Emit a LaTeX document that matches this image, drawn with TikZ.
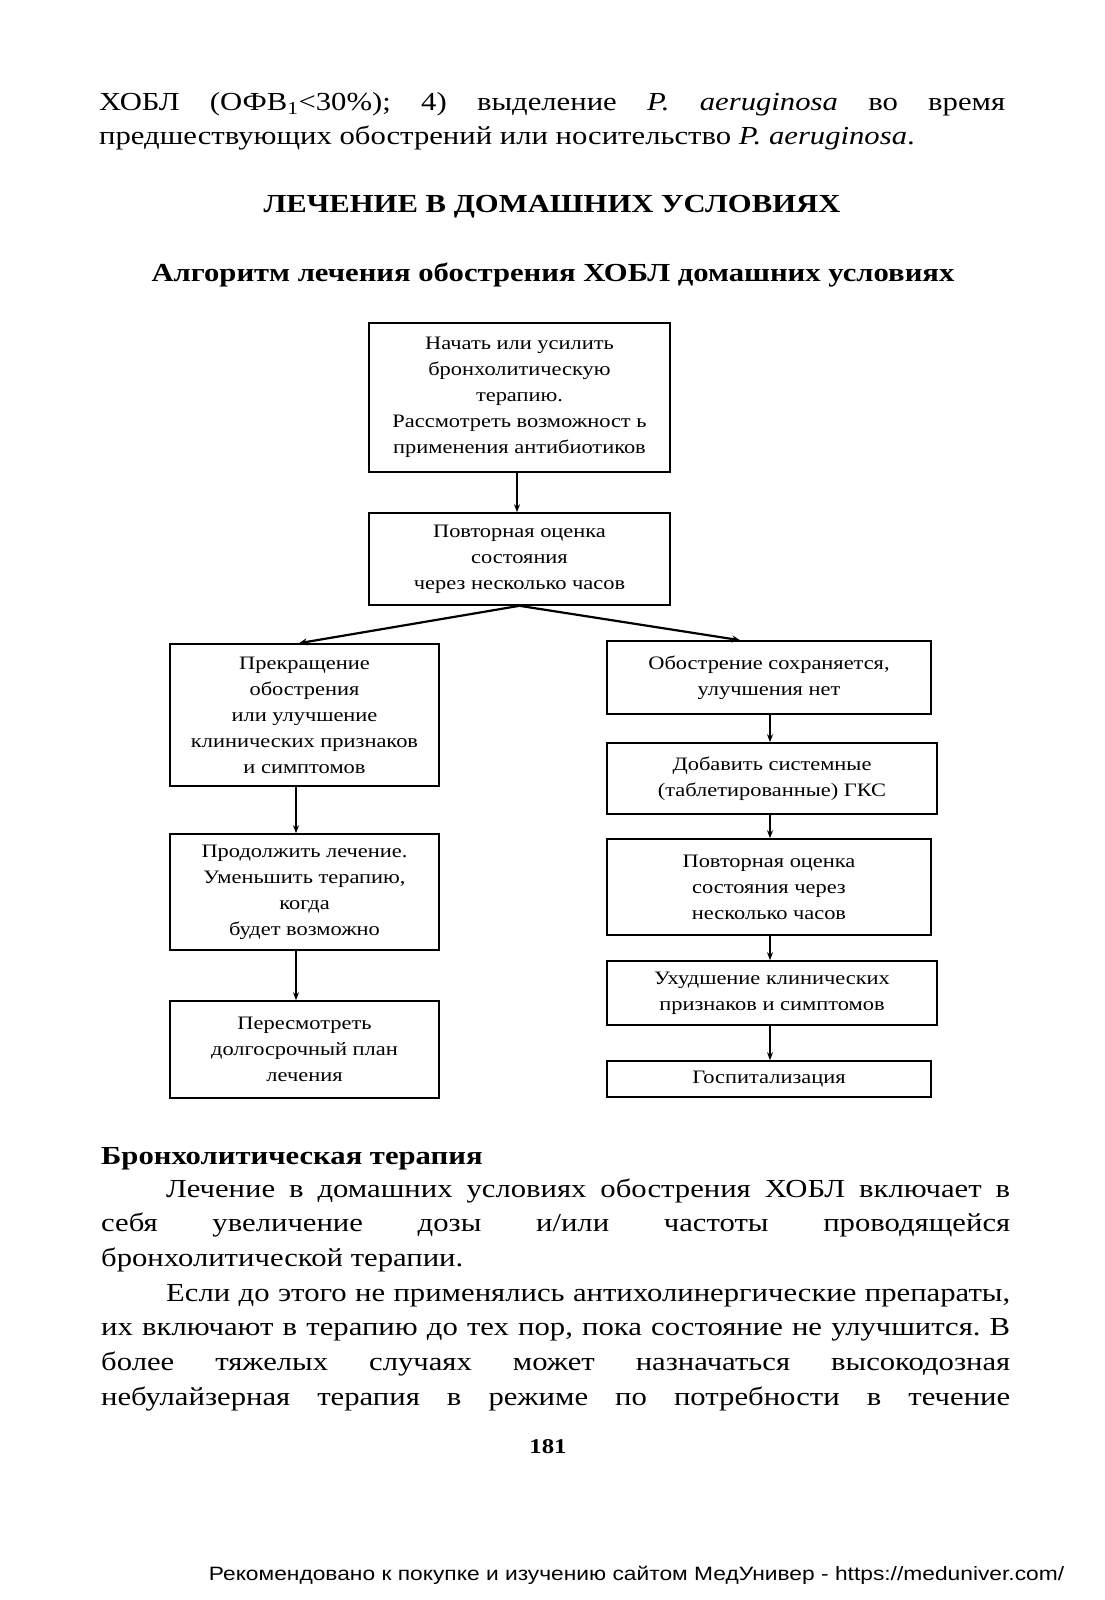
\documentclass[tikz,border=0pt]{standalone}
\usepackage{fontspec}
\setmainfont[FakeStretch=1.18]{Liberation Serif}
\newfontfamily\footfnt[FakeStretch=1.18]{Liberation Sans}
\usetikzlibrary{arrows.meta}
\newcommand\bxfnt{\fontsize{19}{26}\selectfont}
\newcommand\bdfnt{\fontsize{26}{34.5}\selectfont}
\frenchspacing
\begin{document}
\frenchspacing
\begin{tikzpicture}[x=1pt,y=-1pt,
  box/.style={draw, line width=1.6pt, inner sep=0pt, align=center, font=\bxfnt},
  arr/.style={line width=1.4pt, -{Stealth[length=8pt,width=6pt]}},
  diag/.style={line width=2.2pt, -{Stealth[length=8pt,width=7pt]}},
  txt/.style={inner sep=0pt, anchor=base west, font=\bdfnt},
  ctxt/.style={inner sep=0pt, anchor=base, font=\bdfnt\bfseries},
]
\fill[white] (0,0) rectangle (1105,1600);
\path[use as bounding box] (0,0) rectangle (1105,1600);

% top text
\node[txt] (t1) at (99,111) {\makebox[906pt][s]{ХОБЛ (ОФВ\textsubscript{1}<30\%); 4) выделение \textit{P. aeruginosa} во время}};
\node[txt] (t2) at (99,145) {предшествующих обострений или носительство \textit{P. aeruginosa}.};

\node[ctxt] (h1) at (552,212) {ЛЕЧЕНИЕ В ДОМАШНИХ УСЛОВИЯХ};
\node[ctxt] (h2) at (553,281) {Алгоритм лечения обострения ХОБЛ домашних условиях};

% boxes
\node[box, minimum width=301pt, minimum height=149pt] (b1) at (519.5,397.5)
  {Начать или усилить\\бронхолитическую\\терапию.\\Рассмотреть возможност ь\\применения антибиотиков};
\node[box, minimum width=301pt, minimum height=92pt] (b2) at (519.5,559)
  {Повторная оценка\\состояния\\через несколько часов};
\node[box, minimum width=269pt, minimum height=142pt] (A) at (304.5,715)
  {Прекращение\\обострения\\или улучшение\\клинических признаков\\и симптомов};
\node[box, minimum width=269pt, minimum height=116pt] (B) at (304.5,892)
  {Продолжить лечение.\\Уменьшить терапию,\\когда\\будет возможно};
\node[box, minimum width=269pt, minimum height=97pt] (C) at (304.5,1049.5)
  {Пересмотреть\\долгосрочный план\\лечения};
\node[box, minimum width=324pt, minimum height=73pt] (R1) at (769,677.5)
  {Обострение сохраняется,\\улучшения нет};
\node[box, minimum width=330pt, minimum height=71pt] (R2) at (772,778.5)
  {Добавить системные\\(таблетированные) ГКС};
\node[box, minimum width=324pt, minimum height=96pt] (R3) at (769,887)
  {Повторная оценка\\состояния через\\несколько часов};
\node[box, minimum width=330pt, minimum height=64pt] (R4) at (772,993)
  {Ухудшение клинических\\признаков и симптомов};
\node[box, minimum width=324pt, minimum height=36pt] (R5) at (769,1079)
  {Госпитализация};

% connectors
\coordinate (xa) at (517,0);
\coordinate (xl) at (299,0);
\coordinate (xr) at (740,0);
\coordinate (xl2) at (296,0);
\coordinate (xr2) at (770,0);
\draw[arr] (b1.south -| xa) -- (b2.north -| xa);
\draw[diag] (b2.south) -- (A.north -| xl);
\draw[diag] (b2.south) -- (R1.north -| xr);
\draw[arr] (A.south -| xl2) -- (B.north -| xl2);
\draw[arr] (B.south -| xl2) -- (C.north -| xl2);
\draw[arr] (R1.south -| xr2) -- (R2.north -| xr2);
\draw[arr] (R2.south -| xr2) -- (R3.north -| xr2);
\draw[arr] (R3.south -| xr2) -- (R4.north -| xr2);
\draw[arr] (R4.south -| xr2) -- (R5.north -| xr2);

% lower text
\node[txt, font=\bdfnt\bfseries] (s1) at (101,1164) {Бронхолитическая терапия};
\node[txt] (p1) at (166,1197) {\makebox[844pt][s]{Лечение в домашних условиях обострения ХОБЛ включает в}};
\node[txt] (p2) at (101,1231) {\makebox[909pt][s]{себя увеличение дозы и/или частоты проводящейся}};
\node[txt] (p3) at (101,1266) {бронхолитической терапии.};
\node[txt] (p4) at (166,1301) {\makebox[844pt][s]{Если до этого не применялись антихолинергические препараты,}};
\node[txt] (p5) at (101,1335) {\makebox[909pt][s]{их включают в терапию до тех пор, пока состояние не улучшится. В}};
\node[txt] (p6) at (101,1370) {\makebox[909pt][s]{более тяжелых случаях может назначаться высокодозная}};
\node[txt] (p7) at (101,1405) {\makebox[909pt][s]{небулайзерная терапия в режиме по потребности в течение}};
\node[inner sep=0pt, anchor=base, font=\fontsize{21}{24}\selectfont\bfseries] (pg) at (548,1453) {181};

\node[inner sep=0pt, anchor=base, font=\footfnt\fontsize{19.3}{22}\selectfont] (ft) at (636.5,1580)
  {Рекомендовано к покупке и изучению сайтом МедУнивер - https://meduniver.com/};
\end{tikzpicture}
\end{document}
